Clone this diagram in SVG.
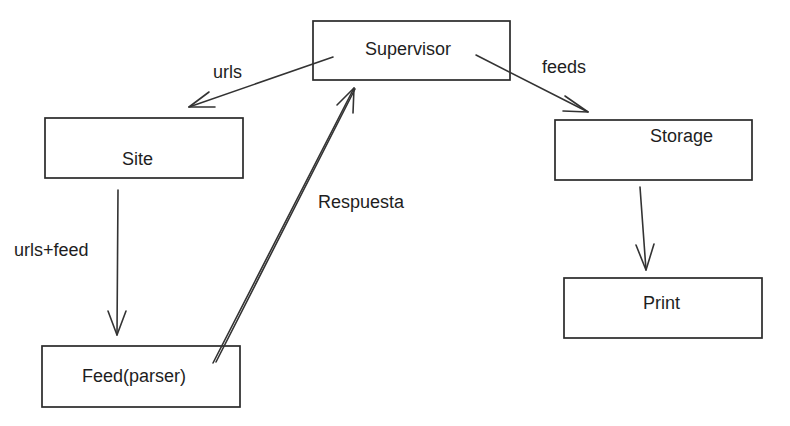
<svg xmlns="http://www.w3.org/2000/svg" width="790" height="426" viewBox="0 0 790 426">
  <style>
    .box { fill: none; stroke: #2a2a2a; stroke-width: 1.7; }
    .lbl { font-family: "Liberation Sans", "DejaVu Sans", sans-serif; font-size: 18px; fill: #1e1e1e; }
    .edge { fill: none; stroke: #333333; stroke-width: 1.6; stroke-linecap: round; stroke-linejoin: round; }
  </style>
  <rect width="790" height="426" fill="#ffffff"/>
  <g id="node-supervisor">
    <rect class="box" x="313" y="21" width="197" height="59"/>
    <text class="lbl" x="365" y="55">Supervisor</text>
  </g>
  <g id="node-site">
    <rect class="box" x="45" y="118" width="198" height="60"/>
    <text class="lbl" x="122" y="165">Site</text>
  </g>
  <g id="node-storage">
    <rect class="box" x="555" y="120" width="197" height="60"/>
    <text class="lbl" x="650" y="142">Storage</text>
  </g>
  <g id="node-feed">
    <rect class="box" x="42" y="346" width="198" height="61"/>
    <text class="lbl" x="82" y="382">Feed(parser)</text>
  </g>
  <g id="node-print">
    <rect class="box" x="564" y="278" width="198" height="60"/>
    <text class="lbl" x="643" y="309">Print</text>
  </g>
  <g id="connectors">
    <g id="edge-supervisor-site">
      <path class="edge" d="M333 57 L189 107"/>
      <path class="edge" d="M209 92 L189 107 L215 107"/>
    </g>
    <g id="edge-supervisor-storage">
      <path class="edge" d="M476 55 L588 112"/>
      <path class="edge" d="M565 96 L588 112 L563 111"/>
    </g>
    <g id="edge-site-feed">
      <path class="edge" d="M118 190 L117 335"/>
      <path class="edge" d="M108 311 L117 335 L126 311"/>
    </g>
    <g id="edge-feed-supervisor">
      <path class="edge" d="M213 363 L354 88" stroke-width="1.2"/>
      <path class="edge" d="M216 362 L355 89" stroke-width="1"/>
      <path class="edge" d="M337 105 L354 88 L353 113"/>
    </g>
    <g id="edge-storage-print">
      <path class="edge" d="M640 187 L646 270"/>
      <path class="edge" d="M636 245 L646 270 L654 244"/>
    </g>
    <text class="lbl" x="213" y="78">urls</text>
    <text class="lbl" x="542" y="73">feeds</text>
    <text class="lbl" x="14" y="256">urls+feed</text>
    <text class="lbl" x="318" y="208">Respuesta</text>
  </g>
</svg>
